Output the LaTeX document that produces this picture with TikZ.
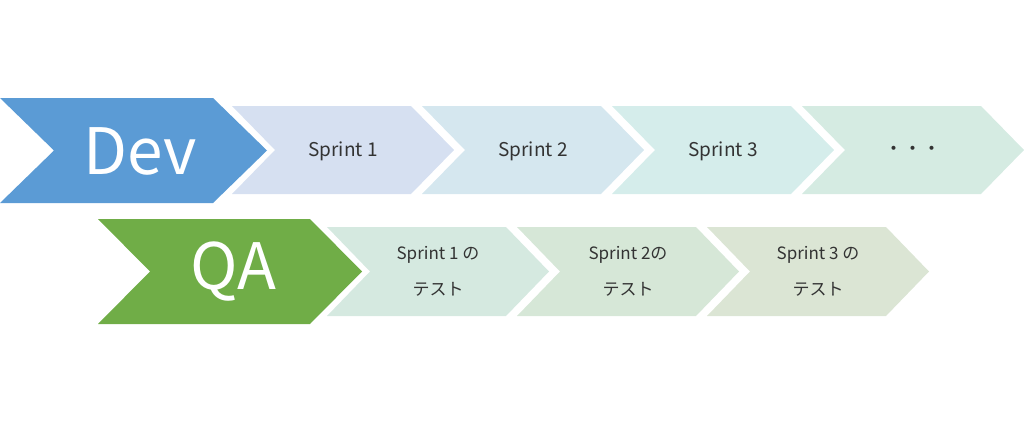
\documentclass[tikz,border=0pt]{standalone}
\usepackage{fontspec}
\setmainfont{Noto Sans CJK JP}
\usepackage{tikz}
\definecolor{devblue}{HTML}{5B9BD5}
\definecolor{qagreen}{HTML}{70AD47}
\definecolor{sprintA}{HTML}{D6E0F1}
\definecolor{sprintB}{HTML}{D5E7EF}
\definecolor{sprintC}{HTML}{D5EDEB}
\definecolor{sprintD}{HTML}{D5EBE2}
\definecolor{testA}{HTML}{D5E9E0}
\definecolor{testB}{HTML}{D6E7D7}
\definecolor{testC}{HTML}{DBE5D4}
\definecolor{labelgray}{HTML}{333333}
% chevron: [fill](left,top)(width:height:depth)
\def\chevron[#1](#2,#3)(#4:#5:#6){\fill[#1] (#2,#3) -- ++(#4,0) -- ++(#6,#5/2) -- ++(-#6,#5/2) -- ++(-#4,0) -- ++(#6,-#5/2) -- cycle;}

\begin{document}
\begin{tikzpicture}[x=0.5pt,y=-0.5pt,
		bigtext/.style={text=white,font=\fontsize{32}{32}\selectfont,inner sep=0pt},
		sprinttext/.style={text=labelgray,font=\fontsize{8.5}{18}\selectfont,align=center,inner sep=0pt}]
		\useasboundingbox (0,0) rectangle (1024,423);
		%%%%% DEV %%%%%
		\chevron[devblue](0,98)(213:105:54);
		\node[bigtext] (dev) at (140,151) {Dev};
		
		\foreach \i/\col/\txt in {0/sprintA/Sprint 1,1/sprintB/Sprint 2,2/sprintC/Sprint 3,3/sprintD/・・・}{
			\chevron[\col](232+190*\i,106)(179:88:43);
			\node[sprinttext,font=\fontsize{9.5}{18}\selectfont] (sprint\i) at (343+190*\i,151) {\txt};
		}
		
		%%%%% QA %%%%%
		\chevron[qagreen](98,219)(212:105:52);
		\node[bigtext] (qa) at (233,272) {QA};
		
		\foreach \i/\col/\txt in {0/testA/Sprint 1 の,1/testB/Sprint 2の,2/testC/Sprint 3 の}{
			\chevron[\col](327+190*\i,227)(179:89:43);
			\node[sprinttext] (test\i) at (438+190*\i,271.5) {\txt\\テスト};
		}
	\end{tikzpicture}
\end{document}
